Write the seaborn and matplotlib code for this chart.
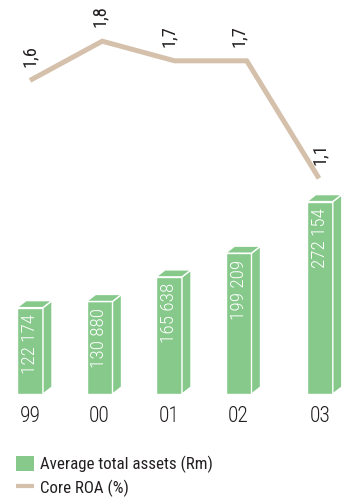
import matplotlib
matplotlib.use("Agg")
import matplotlib.pyplot as plt
import matplotlib.transforms as mtransforms
from matplotlib.patches import Patch, Polygon
from matplotlib.lines import Line2D
from matplotlib import font_manager
import seaborn as sns

# --- data -------------------------------------------------------------
years = ["99", "00", "01", "02", "03"]
avg_assets = [122174, 130880, 165638, 199209, 272154]          # Rm
asset_labels = ["122 174", "130 880", "165 638", "199 209", "272 154"]
core_roa = [1.6, 1.8, 1.7, 1.7, 1.1]                           # %
roa_labels = ["1,6", "1,8", "1,7", "1,7", "1,1"]

# --- layout -----------------------------------------------------------
slots = [0, 1, 2, 3, 4.17]      # column positions, latest year set apart
GREEN = "#86c98b"
TAN = "#d4c0ab"
TEXT = "#231f20"

W, H, DPI = 349, 501, 100
BASE_PX = 394                   # baseline, pixels from the top
BAR_UNIT_PX = 69.5              # pixels per column slot
LINE_UNIT_PX = 72.25            # pixels per point of the ROA line
FIRST_PX = 30                   # x of the first column
ASSET_PX = 7.07e-4              # pixels per Rm
ROA_PX = 196                    # pixels per ROA percentage point
DEPTH_PX = (9, 7)               # 3-D extrusion of the columns

sns.set_theme(style="white")
installed = {f.name for f in font_manager.fontManager.ttflist}
family = [f for f in ["Roboto Condensed", "Archivo Narrow", "PT Sans Narrow",
                      "Asap Condensed", "Liberation Sans Narrow"] if f in installed][:1]
plt.rcParams["font.family"] = family + ["DejaVu Sans"]

fig = plt.figure(figsize=(W / DPI, H / DPI), dpi=DPI)
rect = [0, (H - BASE_PX) / H, 1, BASE_PX / H]
ax = fig.add_axes(rect)
axl = fig.add_axes(rect)
axl.patch.set_alpha(0)

# --- columns ----------------------------------------------------------
sns.barplot(x=slots, y=avg_assets, native_scale=True, ax=ax,
            color=GREEN, saturation=1, width=26 / BAR_UNIT_PX,
            edgecolor="white", linewidth=1, errorbar=None)
ax.set_xlim(-FIRST_PX / BAR_UNIT_PX, (W - FIRST_PX) / BAR_UNIT_PX)
ymax = BASE_PX / ASSET_PX
ax.set_ylim(0, ymax)

dx = DEPTH_PX[0] / BAR_UNIT_PX
dy = DEPTH_PX[1] * ymax / BASE_PX
bars = sorted(ax.patches, key=lambda p: p.get_x())
for bar, label in zip(bars, asset_labels):
    x0 = bar.get_x()
    x1 = x0 + bar.get_width()
    h = bar.get_height()
    side = Polygon([(x1, 0), (x1 + dx, dy), (x1 + dx, h + dy), (x1, h)],
                   closed=True, facecolor=GREEN, edgecolor="white", lw=1)
    top = Polygon([(x0, h), (x0 + dx, h + dy), (x1 + dx, h + dy), (x1, h)],
                  closed=True, facecolor=GREEN, edgecolor="white", lw=1)
    ax.add_patch(side)
    ax.add_patch(top)
    ax.annotate(label, xy=(x0 + bar.get_width() / 2, h), xytext=(0, -4.5),
                textcoords="offset points", rotation=90, ha="center",
                va="top", color="white", fontsize=13.8, fontweight="light")

ax.set_xticks(slots, years)
ax.tick_params(axis="x", length=0, pad=9.0, labelsize=15.5, colors=TEXT)
for t in ax.get_xticklabels():
    t.set_fontweight("light")
ax.set_yticks([])
ax.set_xlabel("")
ax.set_ylabel("")

# --- core ROA line ----------------------------------------------------
sns.lineplot(x=list(range(len(years))), y=core_roa, ax=axl, color=TAN,
             linewidth=3.6, legend=False)
for ln in axl.lines:
    ln.set_solid_capstyle("butt")
    ln.set_solid_joinstyle("miter")
axl.set_xlim(-FIRST_PX / LINE_UNIT_PX, (W - FIRST_PX) / LINE_UNIT_PX)
axl.set_ylim(0, BASE_PX / ROA_PX)
axl.set_xticks([])
axl.set_yticks([])
axl.set_xlabel("")
axl.set_ylabel("")

label_tf = mtransforms.blended_transform_factory(ax.transData, axl.transData)
for pos, val, label in zip(slots, core_roa, roa_labels):
    axl.annotate(label, xy=(pos, val), xycoords=label_tf, xytext=(0, 10),
                 textcoords="offset points", rotation=90, ha="center",
                 va="bottom", color=TEXT, fontsize=13.3)

for a in (ax, axl):
    for s in a.spines.values():
        s.set_visible(False)

# --- legend -----------------------------------------------------------
handles = [Patch(facecolor=GREEN, edgecolor="none"),
           Line2D([], [], color=TAN, linewidth=3, solid_capstyle="butt")]
fig.legend(handles, ["Average total assets (Rm)", "Core ROA (%)"],
           loc="upper left", bbox_to_anchor=(16 / W, 1 - 456 / H),
           frameon=False, fontsize=12.2, handlelength=1.06,
           handleheight=1.0, handletextpad=0.36, labelspacing=0.38,
           borderpad=0, borderaxespad=0, labelcolor=TEXT)

fig.savefig("out.png", dpi=DPI)
